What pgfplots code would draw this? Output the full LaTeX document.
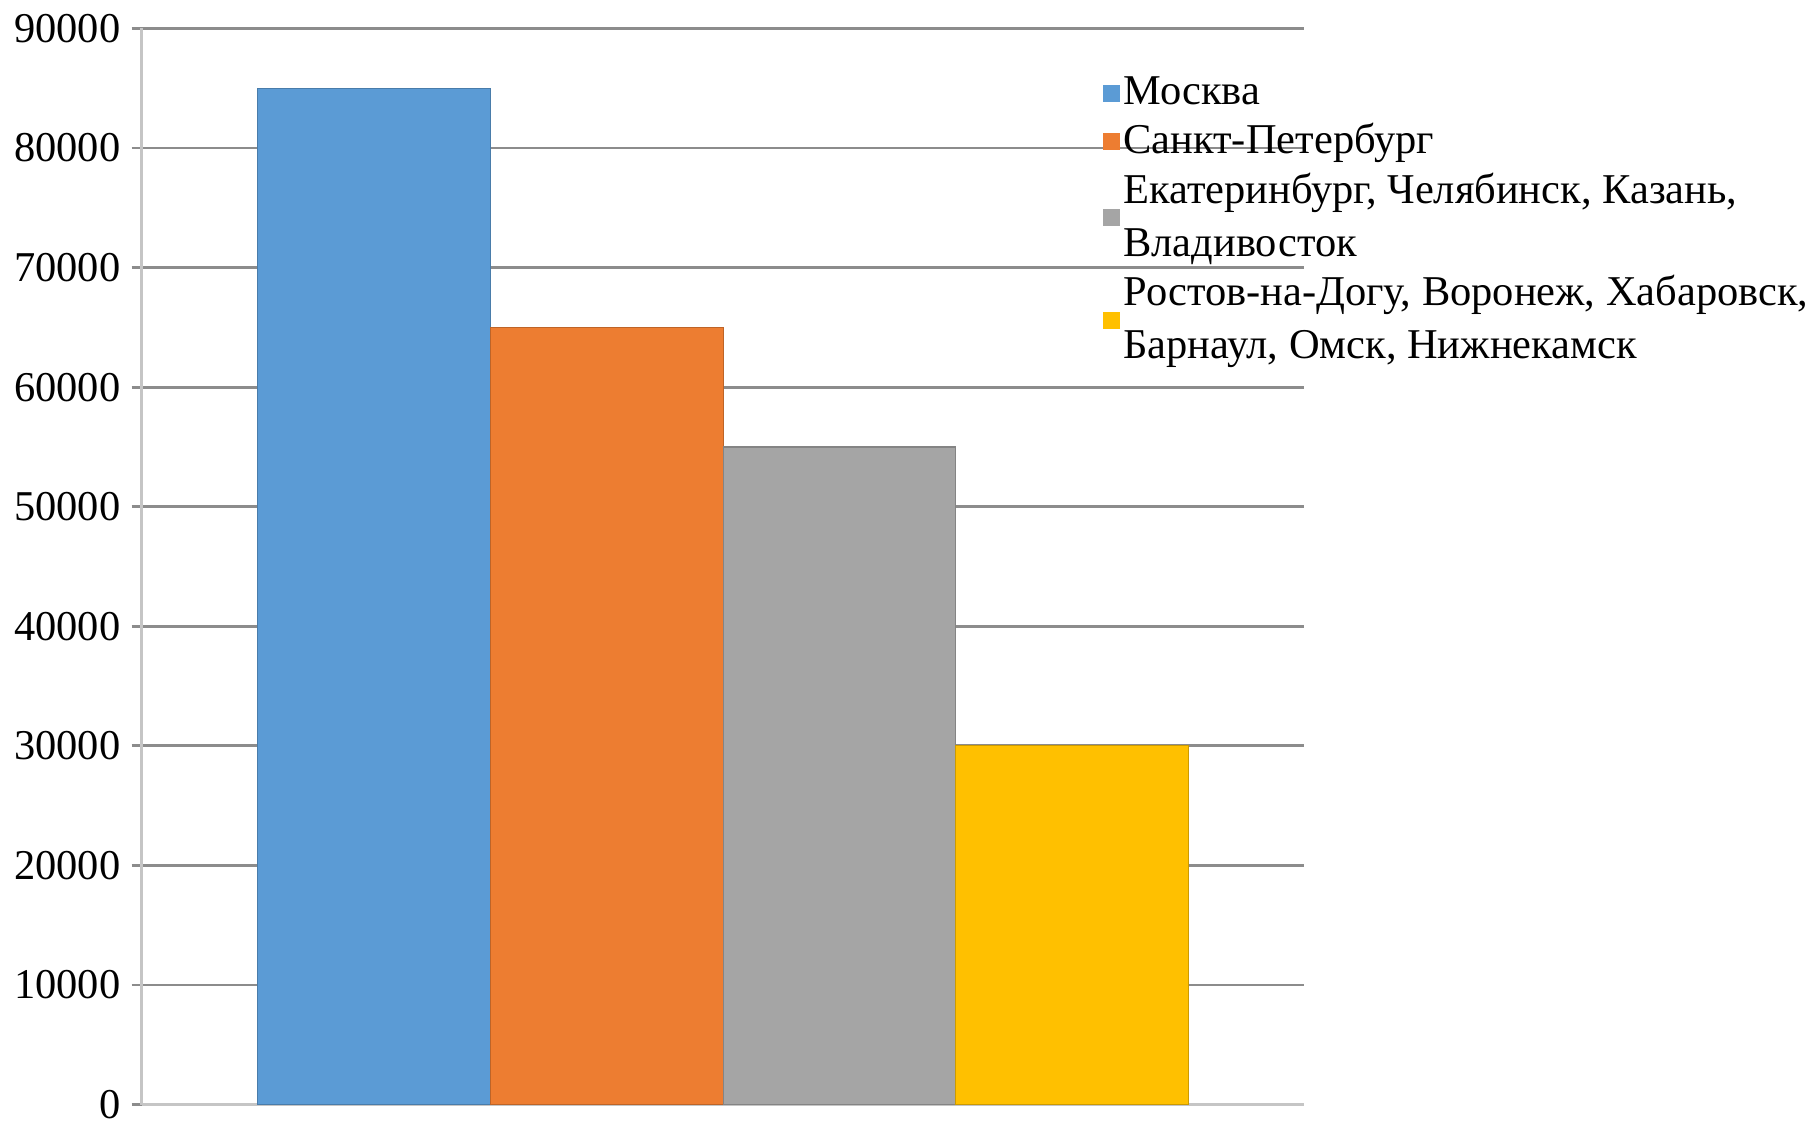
\documentclass[border=0pt,12pt]{standalone}
\usepackage{fontspec}
\setmainfont{Liberation Serif}
\usepackage{pgfplots}
\pgfplotsset{compat=1.18}

\definecolor{cblue}{HTML}{5B9BD5}
\definecolor{corange}{HTML}{ED7D31}
\definecolor{cgray}{HTML}{A5A5A5}
\definecolor{cgold}{HTML}{FFC000}
\definecolor{gridc}{HTML}{8C8C8C}

\begin{document}
\begin{tikzpicture}
\begin{axis}[
    width=11.55cm, height=10.69cm, scale only axis,
    xmin=0, xmax=5, ymin=0, ymax=90000,
    ytick={0,10000,...,90000},
    scaled y ticks=false,
    xtick=\empty,
    axis lines*=left,
    axis line style={draw=gridc!50, line width=1pt},
    ymajorgrids, grid style={draw=gridc, line width=0.8pt},
    tick align=outside, major tick length=0.1cm,
    tick style={draw=gridc, line width=0.8pt},
    /pgf/number format/1000 sep={},
    /pgf/number format/assume math mode=true,
    yticklabel style={font=\fontsize{12}{14}\selectfont, xshift=1pt},
    ybar, bar width=1, bar shift=0pt,
    legend style={draw=none, fill=none, at={(rel axis cs:0.826,0.962)}, anchor=north west,
        font=\fontsize{12}{15}\selectfont, cells={align=left}, row sep=0pt,
        inner sep=0pt, nodes={inner xsep=1pt, inner ysep=1.8pt}},
    legend cell align=left,
    legend image code/.code={\fill[#1, draw=none] (0cm,-0.085cm) rectangle (0.17cm,0.085cm);},
]
\addplot[fill=cblue, draw=cblue!80!black, line width=0.3pt] coordinates {(1,85000)};
\addlegendentry{Москва}
\addplot[fill=corange, draw=corange!80!black, line width=0.3pt] coordinates {(2,65000)};
\addlegendentry{Санкт-Петербург}
\addplot[fill=cgray, draw=cgray!80!black, line width=0.3pt] coordinates {(3,55000)};
\addlegendentry{Екатеринбург, Челябинск, Казань,\\Владивосток}
\addplot[fill=cgold, draw=cgold!80!black, line width=0.3pt] coordinates {(4,30000)};
\addlegendentry{Ростов-на-Догу, Воронеж, Хабаровск,\\Барнаул, Омск, Нижнекамск}
\end{axis}
\end{tikzpicture}
\end{document}
